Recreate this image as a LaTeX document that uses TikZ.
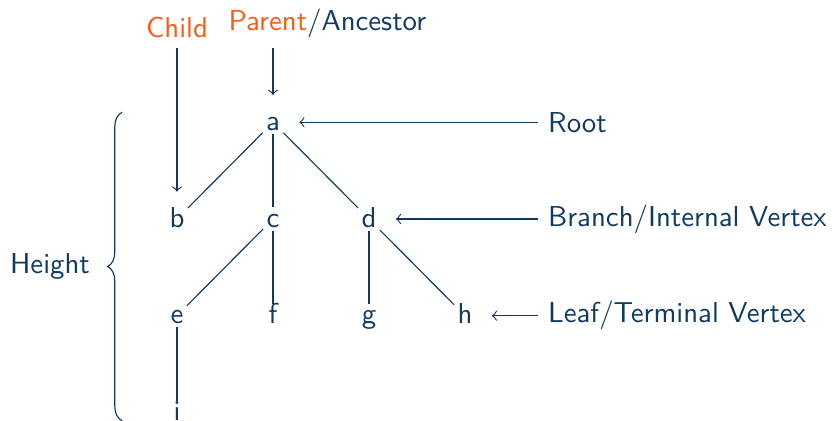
\documentclass[tikz,border=0pt]{standalone}
\usetikzlibrary{decorations.pathreplacing}
\definecolor{navy}{RGB}{14,58,100}
\definecolor{accent}{RGB}{255,90,20}
\begin{document}
\begin{tikzpicture}[x=0.3472pt,y=-0.3472pt,color=navy,font=\sffamily,
  vertex/.style={inner sep=1pt,text height=5.6pt,text depth=0pt},
  pointer/.style={->,shorten >=5.5pt},
  heightbrace/.style={decorate,decoration={brace,amplitude=5pt}}]
\useasboundingbox (0,0) rectangle (834,420);

% tree vertices
\node[vertex] (a) at (273,122.3) {a};
\node[vertex] (b) at (177,219) {b};
\node[vertex] (c) at (273,219) {c};
\node[vertex] (d) at (369,219) {d};
\node[vertex] (e) at (177,315.7) {e};
\node[vertex] (f) at (273,315.7) {f};
\node[vertex] (g) at (369,315.7) {g};
\node[vertex] (h) at (465,315.7) {h};
\node[vertex] (i) at (177,412.4) {i};

% tree edges
\draw (a) -- (b);
\draw (a) -- (c);
\draw (a) -- (d);
\draw (c) -- (e);
\draw (c) -- (f);
\draw (d) -- (g);
\draw (d) -- (h);
\draw (e) -- (i);

% terminology
\node[anchor=south,text=accent] (child) at (177,47.5) {Child};
\node[anchor=south west] (parent) at (218.4,47.5) {\textcolor{accent}{Parent}/Ancestor};
\node[anchor=west] (root) at (538,122.3) {Root};
\node[anchor=west] (branch) at (538,219) {Branch/Internal Vertex};
\node[anchor=west] (leaf) at (538,315.7) {Leaf/Terminal Vertex};

\draw[pointer] (child) -- (b);
\draw[pointer] (parent.south -| a) -- (a);
\draw[pointer] (root) -- (a);
\draw[pointer] (branch) -- (d);
\draw[pointer] (leaf) -- (h);

% height of the tree
\coordinate (hbot) at (122,420.7);
\coordinate (htop) at (122,112.3);
\draw[heightbrace] (hbot) -- (htop);
\node[anchor=east] (height) at (100,266.5) {Height};
\end{tikzpicture}
\end{document}
